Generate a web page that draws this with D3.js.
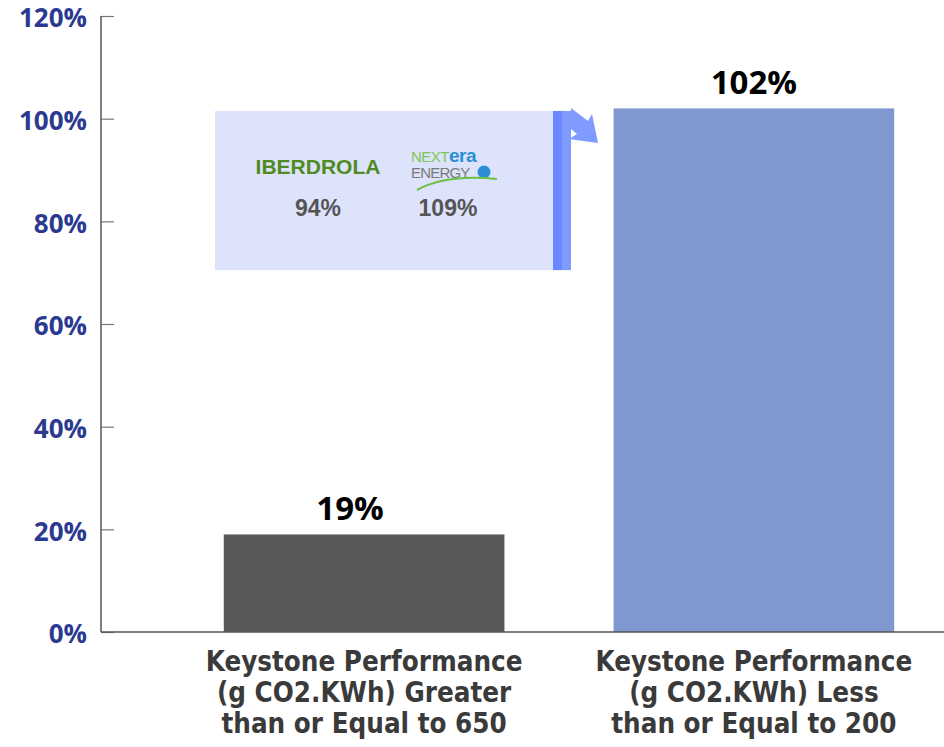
<!DOCTYPE html>
<html lang="en">
<head>
    <meta charset="UTF-8">
    <title>Keystone Performance</title>
    <script src="https://cdn.jsdelivr.net/npm/d3@7"></script>
    <style>
        body{
            margin: 0;
            background: white;
        }
        .yAxis text{
            font-family: "Open Sans", sans-serif;
            font-weight: 700;
            font-size: 26px;
            fill: #2b3990;
        }
        .xLabel{
            font-family: "Liberation Sans Narrow", "DejaVu Sans Condensed", sans-serif;
            font-weight: 700;
            font-size: 27.5px;
            fill: #3a3a3a;
        }
        .valueLabel{
            font-family: "Open Sans", sans-serif;
            font-weight: 700;
            font-size: 33px;
            fill: black;
        }
    </style>
</head>
<body>
<svg id="main" width="944" height="747"></svg>
<script>
    // data
    const categories = [
        ["Keystone Performance", "(g CO2.KWh) Greater", "than or Equal to 650"],
        ["Keystone Performance", "(g CO2.KWh) Less", "than or Equal to 200"]
    ];
    const values = [19, 102];
    const barColors = ["#58585a", "#7f98d0"];
    const yTicks = [0, 20, 40, 60, 80, 100, 120];
    // callout companies
    const peerNames = ["IBERDROLA", "NEXTera ENERGY"];
    const peerValues = [94, 109];

    const width = 944, height = 747;
    const svg = d3.select("svg#main");

    const yScale = d3.scaleLinear()
        .domain([0, 120])
        .range([632, 16]);
    const xScale = d3.scaleBand()
        .domain(d3.range(values.length))
        .range([101, 1017])
        .paddingInner(0.28)
        .paddingOuter(0.315);

    // y axis
    const yAxisGroup = svg.append("g")
        .attr("class", "yAxis")
        .attr("transform", "translate(101,0)")
        .call(d3.axisRight(yScale).tickValues(yTicks).tickSize(13).tickFormat(d => d + "%"));
    yAxisGroup.select(".domain").remove();
    yAxisGroup.selectAll(".tick line").attr("stroke", "#777").attr("stroke-width", 1.2);
    yAxisGroup.selectAll(".tick text")
        .attr("x", -14)
        .attr("dy", "0.42em")
        .attr("text-anchor", "end");
    svg.append("line")
        .attr("x1", 101).attr("x2", 101)
        .attr("y1", yScale(120)).attr("y2", yScale(0))
        .attr("stroke", "#555").attr("stroke-width", 1.5);

    // callout box
    const callout = svg.append("g");
    callout.append("rect")
        .attr("x", 215).attr("y", yScale(101.5))
        .attr("width", 338).attr("height", yScale(70.5) - yScale(101.5))
        .attr("fill", "#dde3fb");
    callout.append("rect")
        .attr("x", 553).attr("y", yScale(101.5))
        .attr("width", 9).attr("height", yScale(70.5) - yScale(101.5))
        .attr("fill", "#6b87ff");
    callout.append("rect")
        .attr("x", 562).attr("y", yScale(101.5))
        .attr("width", 9).attr("height", yScale(70.5) - yScale(101.5))
        .attr("fill", "#7f9bff");
    callout.append("path")
        .attr("d", "M571,108 L588,121 L592,114 L598,143 L569,139 L577,134 L571,129 Z")
        .attr("fill", "#7f9bff");

    // iberdrola
    callout.append("text")
        .attr("x", 318).attr("y", 174)
        .attr("text-anchor", "middle")
        .attr("font-family", "'Liberation Sans', Arial, sans-serif")
        .attr("font-weight", 700)
        .attr("font-size", 21)
        .attr("fill", "#4f8a22")
        .text(peerNames[0]);
    // nextera logo
    const logo = callout.append("g").attr("transform", "translate(411,0)");
    const t1 = logo.append("text")
        .attr("x", 0).attr("y", 162)
        .attr("font-family", "'Liberation Sans', Arial, sans-serif")
        .attr("font-size", 15)
        .attr("letter-spacing", -0.5);
    t1.append("tspan").attr("fill", "#7cc653").attr("font-weight", 400).text(peerNames[1].slice(0, 4));
    t1.append("tspan").attr("fill", "#2a8fd6").attr("font-weight", 700).attr("font-size", 19).text(peerNames[1].slice(4, 7));
    logo.append("text")
        .attr("x", 0).attr("y", 178)
        .attr("font-family", "'Liberation Sans', Arial, sans-serif")
        .attr("font-size", 15)
        .attr("letter-spacing", -0.8)
        .attr("fill", "#7a7a7a")
        .text(peerNames[1].slice(8));
    logo.append("circle")
        .attr("cx", 73).attr("cy", 172).attr("r", 6.5)
        .attr("fill", "#2a8fd6");
    logo.append("path")
        .attr("d", "M6,190 Q35,174 86,179")
        .attr("fill", "none")
        .attr("stroke", "#6cc04a")
        .attr("stroke-width", 2);

    callout.selectAll(".peerValue")
        .data(peerValues)
        .enter().append("text")
        .attr("class", "peerValue")
        .attr("x", (_, i) => [318, 448][i])
        .attr("y", 216)
        .attr("text-anchor", "middle")
        .attr("font-family", "'Liberation Sans', Arial, sans-serif")
        .attr("font-weight", 700)
        .attr("font-size", 23)
        .attr("fill", "#555")
        .text(d => d + "%");

    // bars
    svg.append("g").selectAll("rect")
        .data(values)
        .enter().append("rect")
        .attr("x", (_, i) => xScale(i))
        .attr("y", d => yScale(d))
        .attr("width", xScale.bandwidth())
        .attr("height", d => yScale(0) - yScale(d))
        .attr("fill", (_, i) => barColors[i]);

    // value labels
    svg.append("g").selectAll("text")
        .data(values)
        .enter().append("text")
        .attr("class", "valueLabel")
        .attr("x", (_, i) => xScale(i) + xScale.bandwidth() / 2 - (i === 0 ? 14 : 0))
        .attr("y", d => yScale(d) - 14)
        .attr("text-anchor", "middle")
        .text(d => d + "%");

    // x axis line
    svg.append("line")
        .attr("x1", 101).attr("x2", width)
        .attr("y1", yScale(0)).attr("y2", yScale(0))
        .attr("stroke", "#555").attr("stroke-width", 1.5);

    // category labels
    const labels = svg.append("g").selectAll("text")
        .data(categories)
        .enter().append("text")
        .attr("class", "xLabel")
        .attr("text-anchor", "middle")
        .attr("x", (_, i) => xScale(i) + xScale.bandwidth() / 2)
        .attr("y", 671);
    labels.selectAll("tspan")
        .data(d => d)
        .enter().append("tspan")
        .attr("x", function(){ return this.parentNode.getAttribute("x"); })
        .attr("dy", (_, j) => j === 0 ? 0 : 31)
        .text(d => d);
</script>
</body>
</html>
